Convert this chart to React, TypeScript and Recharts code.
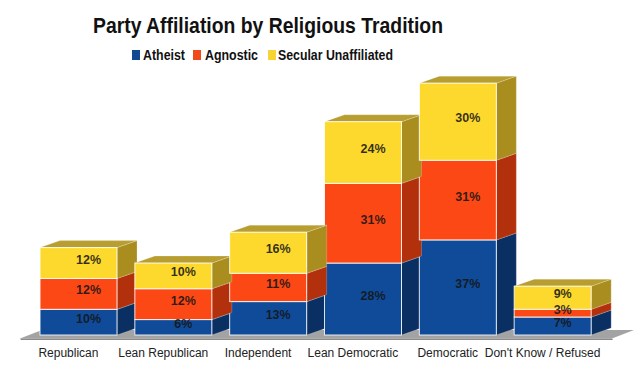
import React from 'react';
import { BarChart, Bar, XAxis, YAxis, LabelList } from 'recharts';

const categories = ['Republican', 'Lean Republican', 'Independent', 'Lean Democratic', 'Democratic', "Don't Know / Refused"];
const atheist = [10, 6, 13, 28, 37, 7];
const agnostic = [12, 12, 11, 31, 31, 3];
const secular = [12, 10, 16, 24, 30, 9];
const seriesNames = ['Atheist', 'Agnostic', 'Secular Unaffiliated'];
const seriesKeys = ['atheist', 'agnostic', 'secular'];
const title = 'Party Affiliation by Religious Tradition';

const data = categories.map((name, i) => ({
  name,
  atheist: atheist[i],
  agnostic: agnostic[i],
  secular: secular[i],
}));

const W = 638;
const H = 374;
const DX = 20;
const DY = 7;

const palette: Record<string, { front: string; side: string; top: string; legend: string }> = {
  atheist: { front: '#0f4b98', side: '#0a2f62', top: '#0c3b7c', legend: '#124a92' },
  agnostic: { front: '#fc4815', side: '#b2300b', top: '#c9380f', legend: '#ef4a1a' },
  secular: { front: '#fdd92d', side: '#a98e1f', top: '#b89d30', legend: '#f6d434' },
};

const makeShape = (key: string) => (props: any) => {
  const { x, y, width, height } = props;
  if (!width || height == null) return null;
  const c = palette[key];
  const side = `${x + width},${y} ${x + width + DX},${y - DY} ${x + width + DX},${y + height - DY} ${x + width},${y + height}`;
  const top = `${x},${y} ${x + DX},${y - DY} ${x + width + DX},${y - DY} ${x + width},${y}`;
  return (
    <g>
      <polygon points={side} fill={c.side} stroke="rgba(255,255,255,0.35)" strokeWidth={0.6} />
      <polygon points={top} fill={c.top} stroke="rgba(255,255,255,0.35)" strokeWidth={0.6} />
      <rect x={x} y={y} width={width} height={height} fill={c.front} stroke="rgba(255,255,255,0.85)" strokeWidth={1} />
    </g>
  );
};

const renderLabel = (props: any) => {
  const { x, y, width, height, value } = props;
  return (
    <text
      x={x + width / 2 + DX / 2}
      y={y + height / 2 - DY / 2}
      textAnchor="middle"
      dominantBaseline="central"
      fontFamily="'Liberation Sans', Arial, sans-serif"
      fontWeight="bold"
      fontSize={12.5}
      fill="#151515"
      fillOpacity={0.88}
    >
      {value}%
    </text>
  );
};

const CategoryTick = (props: any) => {
  const { x, y, payload } = props;
  return (
    <text
      x={x - 10}
      y={y + 14}
      textAnchor="middle"
      fontFamily="'Liberation Sans', Arial, sans-serif"
      fontSize={12}
      fill="#222"
    >
      {payload.value}
    </text>
  );
};

const legendLayout = [
  { sq: 132, tx: 143, len: 42 },
  { sq: 193, tx: 205, len: 53 },
  { sq: 268, tx: 278, len: 115 },
];

export default function App() {
  return (
    <div style={{ position: 'absolute', left: 0, top: 0, width: W, height: H, background: '#fff' }}>
      <BarChart
        width={W}
        height={H}
        data={data}
        margin={{ top: 78, right: 38, bottom: 0, left: 31 }}
        barSize={77}
      >
        <polygon points="20,338.5 612,338.5 634,330 42,330" fill="#a3a3a3" />
        <polygon points="20,338.5 612,338.5 613,340 21,340" fill="#8a8a8a" />
        <text
          x={268}
          y={33}
          textAnchor="middle"
          fontFamily="'Liberation Sans', Arial, sans-serif"
          fontWeight="bold"
          fontSize={21.5}
          fill="#111"
          textLength={350}
          lengthAdjust="spacingAndGlyphs"
        >
          {title}
        </text>
        {seriesNames.map((n, i) => (
          <g key={n}>
            <rect x={legendLayout[i].sq} y={50} width={8} height={10} fill={palette[seriesKeys[i]].legend} />
            <text
              x={legendLayout[i].tx}
              y={60}
              fontFamily="'Liberation Sans', Arial, sans-serif"
              fontWeight="bold"
              fontSize={15}
              fill="#111"
              textLength={legendLayout[i].len}
              lengthAdjust="spacingAndGlyphs"
            >
              {n}
            </text>
          </g>
        ))}
        <XAxis
          dataKey="name"
          axisLine={false}
          tickLine={false}
          height={39}
          interval={0}
          tick={<CategoryTick />}
        />
        <YAxis hide domain={[0, 100]} />
        {seriesKeys.map((k) => (
          <Bar key={k} dataKey={k} stackId="a" isAnimationActive={false} shape={makeShape(k)}>
            <LabelList dataKey={k} content={renderLabel} />
          </Bar>
        ))}
      </BarChart>
    </div>
  );
}
